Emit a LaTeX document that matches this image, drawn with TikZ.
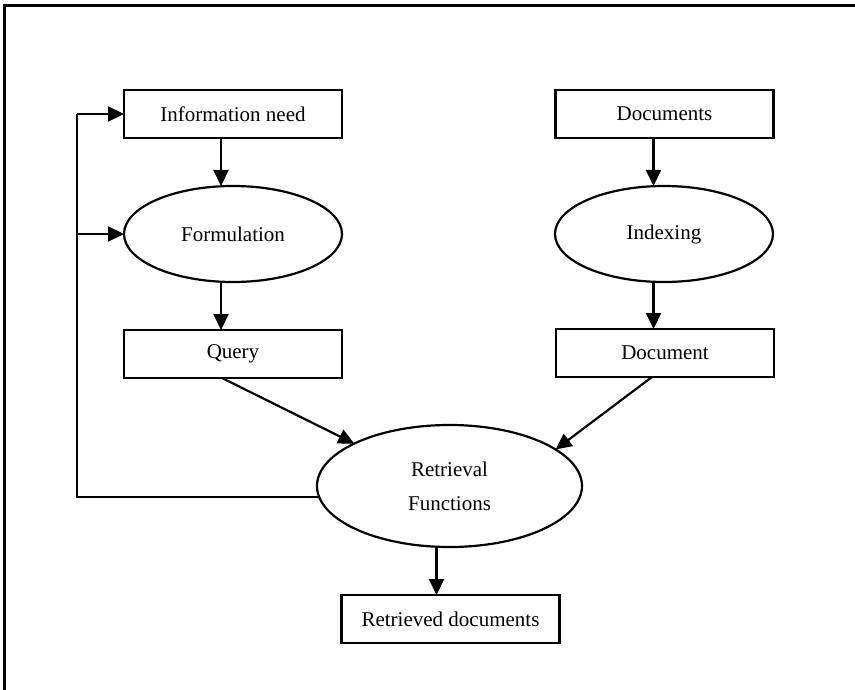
\documentclass[tikz,border=0pt]{standalone}
\usepackage{fontspec}
\setmainfont{Liberation Serif}
\usetikzlibrary{shapes.geometric,arrows.meta}
\begin{document}
\begin{tikzpicture}[x=1pt,y=-1pt,
  every node/.style={font=\fontsize{21}{34}\selectfont, outer sep=0pt, inner sep=0pt},
  box/.style={draw, line width=2.2pt, rectangle, minimum width=218pt, minimum height=48pt},
  oval/.style={draw, line width=2.2pt, ellipse, minimum width=218pt, minimum height=96pt},
  link/.style={line width=2.2pt, -{Triangle[length=16pt,width=15pt]}},
  plain/.style={line width=2.2pt}]
\useasboundingbox (0,0) rectangle (855,690);
\coordinate (tl) at (4,6);
\coordinate (tr) at (855,6);
\coordinate (bl) at (4,690);
\draw[line width=3pt] (bl) -- (tl) -- (tr);

\node[box] (info) at (233,114) {Information need};
\node[oval] (form) at (233,234) {Formulation};
\node[box] (query) at (233,354) {Query};
\node[box] (docs) at (664.5,114) {Documents};
\node[oval] (index) at (664,234) {Indexing};
\node[box] (doc) at (665,353) {Document};
\node[oval, minimum width=265pt, minimum height=122pt, align=center] (retr) at (449.5,486) {Retrieval\\Functions};
\node[box] (out) at (450.5,619) {Retrieved documents};

\coordinate (fb) at (77,498);
\coordinate (lx) at ([xshift=-12pt]info.south);
\coordinate (rx) at ([xshift=-11pt]docs.south);
\coordinate (cx) at ([xshift=-13pt]retr.south);

\draw[link] (lx) -- (lx |- form.north);
\draw[link] (lx |- form.south) -- (lx |- query.north);
\draw[link] (rx) -- (rx |- index.north);
\draw[link] (rx |- index.south) -- (rx |- doc.north);
\draw[link] ([xshift=-11pt]query.south) -- (retr.156);
\draw[link] ([xshift=-13pt]doc.south) -- (retr.19);
\draw[link] (cx) -- (cx |- out.north);
\draw[plain] (retr.185) -- (retr.185 -| fb) -- (fb |- info.west);
\draw[link] (fb |- info.west) -- (info.west);
\draw[link] (fb |- form.west) -- (form.west);
\end{tikzpicture}
\end{document}
